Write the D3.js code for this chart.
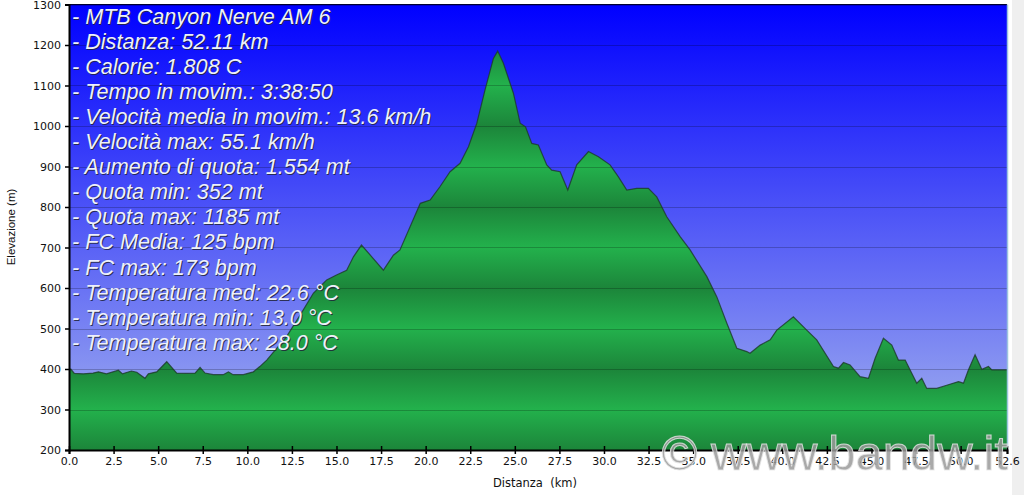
<!DOCTYPE html>
<html><head><meta charset="utf-8">
<script src="https://cdn.jsdelivr.net/npm/d3@7"></script>
<style>html,body{margin:0;padding:0;background:#fff;overflow:hidden}</style>
</head><body><svg id="c" width="1024" height="495"></svg>
<script>
const distKm = [0,0.1,0.3,0.8,1.35,1.65,2.1,2.77,3.0,3.5,3.8,4.26,4.45,4.92,5.48,6.04,6.6,7.07,7.35,7.63,8.09,8.65,8.94,9.2,9.78,10.34,10.7,11.09,12.2,12.96,13.7,14.45,15.0,15.57,15.95,16.4,16.98,17.63,18.19,18.56,19.7,20.25,20.8,21.37,21.93,22.4,22.87,23.33,23.8,24.04,24.36,24.92,25.3,25.6,25.95,26.32,26.79,27.07,27.54,27.97,28.47,29.13,29.69,30.34,30.8,31.28,31.84,32.49,32.96,33.52,34.27,34.83,35.77,36.33,36.89,37.45,38.01,38.19,38.76,39.32,39.69,40.62,41.37,41.93,42.87,43.15,43.43,43.8,44.36,44.83,45.2,45.67,46.14,46.51,46.89,46.98,47.54,47.82,48.1,48.66,49.22,49.88,50.16,50.44,50.81,51.19,51.56,51.75,52.6];
const elevM = [397,400,389,388,390,393,388,397,388,395,392,377,388,393,418,390,389,390,404,390,386,386,393,386,386,393,406,422,480,533,587,620,632,644,677,706,677,644,681,694,809,817,850,887,908,949,1007,1089,1167,1185,1155,1081,1007,998,957,953,904,891,887,842,904,937,924,904,875,842,846,846,825,776,727,694,628,578,513,451,443,439,459,472,496,529,496,472,406,402,416,410,381,377,426,476,459,422,422,414,365,377,352,352,360,369,365,398,435,399,406,398,398];
const xTickValues = [0,2.5,5,7.5,10,12.5,15,17.5,20,22.5,25,27.5,30,32.5,35,37.5,40,42.5,45,47.5,50,52.6];
const yTickValues = [200,300,400,500,600,700,800,900,1000,1100,1200,1300];
const infoLines = [
  "- MTB Canyon Nerve AM 6",
  "- Distanza: 52.11 km",
  "- Calorie: 1.808 C",
  "- Tempo in movim.: 3:38:50",
  "- Velocità media in movim.: 13.6 km/h",
  "- Velocità max: 55.1 km/h",
  "- Aumento di quota: 1.554 mt",
  "- Quota min: 352 mt",
  "- Quota max: 1185 mt",
  "- FC Media: 125 bpm",
  "- FC max: 173 bpm",
  "- Temperatura med: 22.6 °C",
  "- Temperatura min: 13.0 °C",
  "- Temperatura max: 28.0 °C"
];
const xTitle = "Distanza  (km)";
const yTitle = "Elevazione (m)";
const watermark = "© www.bandw.it";

const svg = d3.select("#c");
const m = {left:69, right:1007, top:4.5, bottom:450};
const x = d3.scaleLinear().domain([0,52.6]).range([m.left,m.right]);
const y = d3.scaleLinear().domain([200,1300]).range([m.bottom,m.top]);

svg.append("rect").attr("x",1012).attr("y",0).attr("width",12).attr("height",495).attr("fill","#efefef");

const defs = svg.append("defs");
const bg = defs.append("linearGradient").attr("id","bg").attr("x1",0).attr("x2",0).attr("y1",0).attr("y2",1);
bg.append("stop").attr("offset",0).attr("stop-color","#0000ff");
bg.append("stop").attr("offset",1).attr("stop-color","#a5b4ee");
const gr = defs.append("linearGradient").attr("id","gr").attr("gradientUnits","userSpaceOnUse")
  .attr("x1",0).attr("x2",0).attr("y1",y(400)).attr("y2",y(200)).attr("spreadMethod","repeat");
gr.append("stop").attr("offset",0).attr("stop-color","#1c853a");
gr.append("stop").attr("offset",0.5).attr("stop-color","#23b14c");
gr.append("stop").attr("offset",1).attr("stop-color","#1c853a");

svg.append("rect").attr("x",m.left).attr("y",m.top).attr("width",m.right-m.left).attr("height",m.bottom-m.top).attr("fill","url(#bg)");

const pts = distKm.map((d,i)=>[d,elevM[i]]);
const area = d3.area().x(d=>x(d[0])).y0(y(200)).y1(d=>y(d[1]));
const line = d3.line().x(d=>x(d[0])).y(d=>y(d[1]));
svg.append("path").datum(pts).attr("d",area).attr("fill","url(#gr)");

svg.append("g").selectAll("line").data(yTickValues.slice(1)).join("line")
  .attr("x1",m.left).attr("x2",m.right).attr("y1",d=>Math.round(y(d))+0.5).attr("y2",d=>Math.round(y(d))+0.5)
  .attr("stroke","#000").attr("stroke-opacity",0.22);

svg.append("path").datum(pts).attr("d",line).attr("fill","none").attr("stroke","#1d3a2a").attr("stroke-opacity",0.8).attr("stroke-width",1.2);

svg.append("line").attr("x1",m.left).attr("x2",m.right).attr("y1",m.top).attr("y2",m.top).attr("stroke","#000033").attr("stroke-width",1);
svg.append("line").attr("x1",m.right+0.5).attr("x2",m.right+0.5).attr("y1",m.top).attr("y2",m.bottom).attr("stroke","#9cc4de").attr("stroke-width",1.5);

const xAxis = d3.axisBottom(x).tickValues(xTickValues).tickFormat(d=>d.toFixed(1)).tickSize(4).tickPadding(3);
const gx = svg.append("g").attr("transform",`translate(0,${m.bottom})`).call(xAxis);
gx.select(".domain").attr("stroke","#000").attr("stroke-width",2);
gx.selectAll(".tick line").attr("y1",-4).attr("stroke-width",1.5);
gx.selectAll("text").attr("font-family","DejaVu Sans, Verdana").attr("font-size",11).attr("fill","#111");

const yAxis = d3.axisLeft(y).tickValues(yTickValues).tickFormat(d3.format("d")).tickSize(4).tickPadding(4);
const gy = svg.append("g").attr("transform",`translate(${m.left},0)`).call(yAxis);
gy.select(".domain").attr("stroke","#000").attr("stroke-width",2);
gy.selectAll(".tick line").attr("stroke-width",1.5);
gy.selectAll("text").attr("font-family","DejaVu Sans, Verdana").attr("font-size",11).attr("fill","#111");

svg.append("text").attr("transform","translate(15,227) rotate(-90)").attr("text-anchor","middle")
  .attr("font-family","Liberation Sans, Arial").attr("font-size",11.5).attr("fill","#111").text(yTitle);
svg.append("text").attr("x",535).attr("y",487).attr("text-anchor","middle").style("white-space","pre")
  .attr("font-family","DejaVu Sans, Verdana").attr("font-size",11.5).attr("fill","#111").text(xTitle);

const info = svg.append("g").attr("font-family","Liberation Sans, Arial").attr("font-style","italic").attr("font-size",21.6);
info.selectAll("text.s").data(infoLines).join("text").attr("class","s")
  .attr("x",73).attr("y",(d,i)=>24.5+i*25.1).attr("fill","#20243a").attr("fill-opacity",0.85).text(d=>d);
info.selectAll("text.f").data(infoLines).join("text").attr("class","f")
  .attr("x",72).attr("y",(d,i)=>23.5+i*25.1).attr("fill","#eef1fb").text(d=>d);

svg.append("text").attr("x",1008).attr("y",470).attr("text-anchor","end")
  .attr("font-family","Liberation Sans, Arial").attr("font-size",49)
  .attr("fill","#9a9a9a").attr("fill-opacity",0.85).attr("stroke","#e8e8e8").attr("stroke-width",1).attr("stroke-opacity",0.8)
  .text(watermark);
</script></body></html>
